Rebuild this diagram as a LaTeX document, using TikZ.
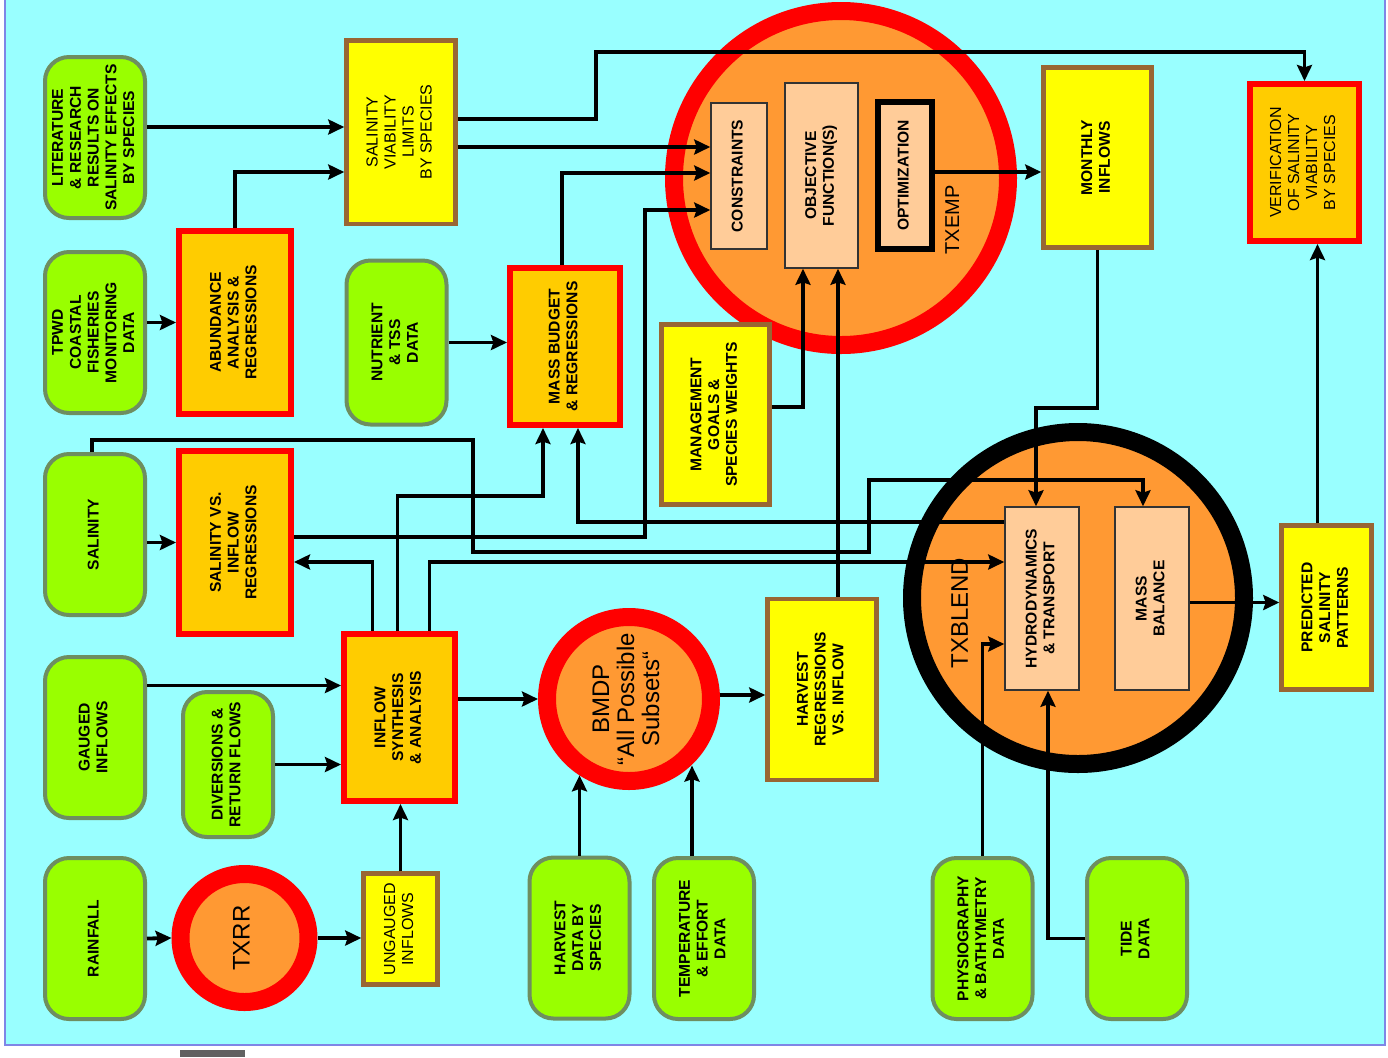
\documentclass[tikz,border=0pt]{standalone}
\usepackage{fontspec}
\setmainfont{Liberation Sans}
\usepackage{tikz}
\usetikzlibrary{arrows.meta}

\definecolor{bgcyan}{HTML}{99FFFF}
\definecolor{bgedge}{HTML}{7F86E6}
\definecolor{grn}{HTML}{99FF00}
\definecolor{grnedge}{RGB}{110,142,96}
\definecolor{org}{HTML}{FFCC00}
\definecolor{yel}{HTML}{FFFF00}
\definecolor{brn}{HTML}{996633}
\definecolor{circ}{HTML}{FF9933}
\definecolor{peach}{HTML}{FFCC99}

\newcommand{\vlab}[1]{\rotatebox{90}{\begin{tabular}{@{}c@{}}#1\end{tabular}}}
\newcommand{\bxfont}{\fontsize{7.8}{8.9}\selectfont\bfseries}
\newcommand{\rgfont}{\fontsize{8}{9}\selectfont}

\tikzset{
  grnbox/.style={draw=grnedge, fill=grn, line width=2pt, rounded corners=12pt,
    minimum width=50pt, minimum height=80.5pt, inner sep=0pt, font=\bxfont},
  orgbox/.style={draw=red, fill=org, line width=3pt,
    minimum width=56pt, minimum height=91.5pt, inner sep=0pt, font=\bxfont},
  yelbox/.style={draw=brn, fill=yel, line width=2.25pt,
    minimum width=54.5pt, minimum height=91pt, inner sep=0pt, font=\bxfont},
  inbox/.style={draw=black!80, fill=peach, line width=0.75pt, inner sep=0pt, font=\bxfont},
  ring/.style={circle, fill=circ, line width=9pt, inner sep=0pt, font=\fontsize{12}{12.5}\selectfont},
  arr/.style={-{Stealth[length=8pt,width=7.5pt,inset=1.2pt]}, line width=1.9pt},
  ln/.style={line width=1.9pt}
}

\begin{document}
\begin{tikzpicture}[x=0.5pt,y=-0.5pt]
\useasboundingbox (0,0) rectangle (1388,1057);
\fill[white] (0,0) rectangle (1388,1057);
\fill[bgcyan] (5,0) rectangle (1385,1045);
\draw[bgedge, line width=0.8pt] (5,0) -- (5,1045) -- (1385,1045) -- (1385,0);
\fill[black!62] (180,1050) rectangle (245,1057);

\node[ring, draw=red, minimum size=167pt] (f0) at (841,178) {};
\node[ring, draw=black, minimum size=166pt] (h0) at (1078,598) {};

\node[grnbox] (a1) at (95,137.5) {\vlab{LITERATURE\\\& RESEARCH\\RESULTS ON\\SALINITY EFFECTS\\BY SPECIES}};
\node[grnbox] (a2) at (95,332.5) {\vlab{TPWD\\COASTAL\\FISHERIES\\MONITORING\\DATA}};
\node[grnbox] (a3) at (95,534.5) {\vlab{SALINITY}};
\node[grnbox] (a4) at (95,737.5) {\vlab{GAUGED\\INFLOWS}};
\node[grnbox] (a5) at (95,938.5) {\vlab{RAINFALL}};

\node[orgbox] (b1) at (235,322.5) {\vlab{ABUNDANCE\\ANALYSIS \&\\REGRESSIONS}};
\node[orgbox] (b2) at (235,542.5) {\vlab{SALINITY VS.\\INFLOW\\REGRESSIONS}};
\node[grnbox, minimum width=45pt, minimum height=72.5pt] (b3) at (228,764.5) {\vlab{DIVERSIONS \&\\RETURN FLOWS}};
\node[ring, draw=red, minimum size=64pt] (b4) at (244.5,938) {\vlab{TXRR}};

\node[yelbox, font=\rgfont, minimum height=91.75pt] (c1) at (401,132) {\vlab{SALINITY\\VIABILITY\\LIMITS\\BY SPECIES}};
\node[grnbox, minimum height=82pt] (c2) at (396.5,342.5) {\vlab{NUTRIENT\\\& TSS\\DATA}};
\node[orgbox, minimum width=55.5pt, minimum height=83.5pt] (c3) at (399.5,717.5) {\vlab{INFLOW\\SYNTHESIS\\\& ANALYSIS}};
\node[yelbox, font=\rgfont, minimum width=37pt, minimum height=55.5pt] (c4) at (400.5,929) {\vlab{UNGAUGED\\INFLOWS}};

\node[orgbox, minimum width=55pt, minimum height=78.5pt] (d1) at (565,346.5) {\vlab{MASS BUDGET\\\& REGRESSIONS}};
\node[ring, draw=red, minimum size=82pt] (d2) at (629,699) {\vlab{BMDP\\“All Possible\\Subsets“}};
\node[grnbox] (d3) at (579.5,938) {\vlab{HARVEST\\DATA BY\\SPECIES}};

\node[yelbox, minimum width=54pt, minimum height=90pt] (e1) at (715.5,414.5) {\vlab{MANAGEMENT\\GOALS \&\\SPECIES WEIGHTS}};
\node[grnbox] (e2) at (704,938.5) {\vlab{TEMPERATURE\\\& EFFORT\\DATA}};
\node[yelbox, minimum height=90.5pt] (e3) at (822,689.5) {\vlab{HARVEST\\REGRESSIONS\\VS. INFLOW}};

\node[inbox, minimum width=28pt, minimum height=73pt] (f1) at (739,176) {\vlab{CONSTRAINTS}};
\node[inbox, minimum width=36.5pt, minimum height=92.5pt] (f2) at (821.5,175.5) {\vlab{OBJECTIVE\\FUNCTION(S)}};
\node[inbox, draw=black, line width=3pt, minimum width=27pt, minimum height=73.5pt] (f3) at (905,175.5) {\vlab{OPTIMIZATION}};
\node[font=\fontsize{10}{10}\selectfont] (f4) at (955,220) {\vlab{TXEMP}};

\node[yelbox, minimum width=54pt, minimum height=90pt] (g1) at (1097.5,157.5) {\vlab{MONTHLY\\INFLOWS}};

\node[inbox, minimum width=37pt, minimum height=91.5pt] (h1) at (1042,598.5) {\vlab{HYDRODYNAMICS\\\& TRANSPORT}};
\node[inbox, minimum width=37pt, minimum height=91.5pt] (h2) at (1152,598.5) {\vlab{MASS\\BALANCE}};
\node[font=\fontsize{12}{12}\selectfont] (h3) at (963,613) {\vlab{TXBLEND}};
\node[grnbox] (h4) at (982.5,938.5) {\vlab{PHYSIOGRAPHY\\\& BATHYMETRY\\DATA}};
\node[grnbox] (h5) at (1137,938.5) {\vlab{TIDE\\DATA}};

\node[orgbox, font=\rgfont, minimum width=54.5pt, minimum height=78.5pt] (i1) at (1304.5,162.5) {\vlab{VERIFICATION\\OF SALINITY\\VIABILITY\\BY SPECIES}};
\node[yelbox, minimum width=45pt, minimum height=82pt] (i2) at (1326.5,607.5) {\vlab{PREDICTED\\SALINITY\\PATTERNS}};

\draw[arr] ([yshift=5.25pt]a1.east) -- ([yshift=5.25pt]a1.east -| c1.west);
\draw[arr] (b1.north) |- ([yshift=-20pt]c1.west);
\draw[arr] (a2.east |- b1) -- (b1.west);
\draw[arr] (a3.east |- b2) -- (b2.west);
\draw[arr] (c2.east) -- (c2.east -| d1.west);
\draw[arr] ([yshift=6.5pt]c1.east) -| (596,52) -| (i1.north);
\draw[arr] ([yshift=-7.5pt]c1.east) -- ([yshift=-7.5pt]c1.east -| f1.west);
\draw[arr] ([xshift=-1.5pt]d1.north) |- ([yshift=1.5pt]f1.west);
\draw[arr] ([yshift=2.75pt]b2.east) -| (645,210) -- ([yshift=-17pt]f1.west);
\draw[arr] ([yshift=38.25pt]h1.west) -| ([xshift=6.5pt]d1.south);
\draw[arr] ([xshift=-1pt]c3.north) -- ++(0,-135) -| ([xshift=-11pt]d1.south);
\draw[arr] ([xshift=-1.5pt]a3.north) -- ++(0,-12) -| (473,552) -| (869,480) -| ([xshift=-4.5pt]h2.north);
\draw[arr] ([xshift=15pt]c3.north) |- ([yshift=18.25pt]h1.west);
\draw[arr] ([xshift=-13.5pt]c3.north) |- ([yshift=-9.75pt]b2.east);
\draw[arr] ([yshift=26pt]a4.east) -- ([yshift=26pt]a4.east -| c3.west);
\draw[arr] (b3.east) -- (b3.east -| c3.west);
\draw[arr] (c4.north) -- (c4.north |- c3.south);
\draw[arr] (a5.east) -- (b4.west);
\draw[arr] (b4.east) -- (b4.east -| c4.west);
\draw[arr] (d2.west -| c3.east) -- (d2.west);
\draw[arr] ([yshift=2pt]d2.east) -- ([yshift=2pt]d2.east -| e3.west);
\draw[arr] (d3.north) -- (d3.north |- d2.237.6);
\draw[arr] ([xshift=-6pt]e2.north) -- ([xshift=-6pt]e2.north |- d2.313.8);
\draw[arr] ([xshift=8pt]e3.north) -- ([xshift=8pt]e3.north |- f2.south);
\draw[arr] ([yshift=3.75pt]e1.east) -| ([xshift=-9.25pt]f2.south);
\draw[arr] ([yshift=1.75pt]f3.east) -- ([yshift=1.75pt]f3.east -| g1.west);
\draw[arr] (g1.south) -- ++(0,158) -| ([xshift=-3pt]h1.north);
\draw[arr] (h4.north) |- ([yshift=-22.75pt]h1.west);
\draw[arr] (h5.west) -| ([xshift=3pt]h1.south);
\draw[arr] ([yshift=-2pt]h2.east) -- ([yshift=-2pt]h2.east -| i2.west);
\draw[arr] ([xshift=-4.5pt]i2.north) -- ([xshift=-4.5pt]i2.north |- i1.south);
\end{tikzpicture}
\end{document}
